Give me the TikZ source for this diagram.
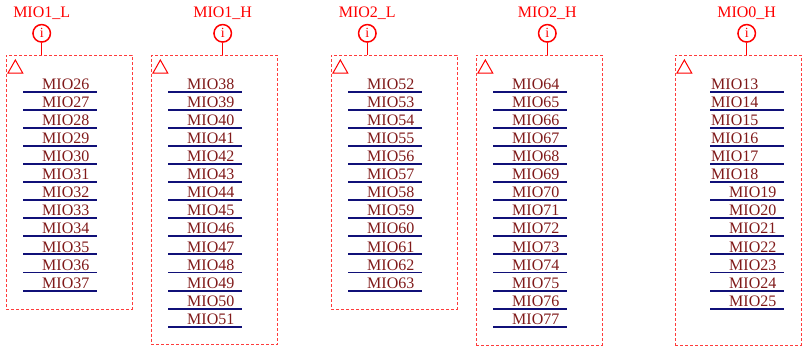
\documentclass[tikz,border=0pt]{standalone}
\usepackage{fontspec}
\setmainfont{Liberation Serif}
\definecolor{lblred}{HTML}{FF0000}
\definecolor{txtred}{HTML}{801A1A}
\definecolor{pinnavy}{HTML}{101078}
\definecolor{boxred}{HTML}{FF3C3C}
\begin{document}
\begin{tikzpicture}[x=1pt,y=-1pt,
  grpbox/.style={draw=boxred, dash pattern=on 3pt off 2pt, line width=1pt, inner sep=0pt, outer sep=0pt},
  pinline/.style={draw=pinnavy, line width=1.9pt},
  pintext/.style={text=txtred, font=\fontsize{16}{16}\selectfont, anchor=base west, inner sep=0pt},
  busname/.style={text=lblred, font=\fontsize{16}{16}\selectfont, anchor=base, inner sep=0pt},
  infocirc/.style={circle, draw=lblred, line width=1.5pt, minimum size=17.5pt, inner sep=0pt, text=lblred, font=\fontsize{14}{14}\selectfont},
  stem/.style={draw=lblred, line width=1.5pt},
  tri/.style={draw=lblred, line width=1pt}]
\useasboundingbox (0,0) rectangle (804,349);
\foreach \bx/\bb/\lo/\cx/\lab/\first/\last/\ns/\id in {
  6/309/17/41.7/MIO1\_L/26/37/0/a,
  151/344.5/17/222.7/MIO1\_H/38/51/0/b,
  331/309/17/367.3/MIO2\_L/52/63/0/c,
  476/345/17/547.3/MIO2\_H/64/77/0/d,
  675/345/35/746.7/MIO0\_H/13/25/6/e}{
  \pgfmathsetmacro\bh{\bb-55}
  \node[grpbox, anchor=north west, minimum width=126pt, minimum height=\bh pt] (box\id) at (\bx,55) {};
  \node[busname] (lab\id) at (\cx,17) {\lab};
  \node[infocirc] (inf\id) at (\cx,33.3) {i};
  \draw[stem] (inf\id.south) -- (inf\id.south |- box\id.north);
  \draw[tri] ({\bx+2},73) -- ({\bx+9.35},60) -- ({\bx+16.7},73) -- cycle;
  \foreach \n [count=\i from 0] in {\first,...,\last}{
    \pgfmathsetmacro\ly{91.7+18.08*\i}
    \pgfmathsetmacro\toff{\i<\ns ? 1 : 19}
    \node[pintext] (pin\n) at ({\bx+\lo+\toff},{\ly-2.4}) {MIO\n};
    \draw[pinline] ({\bx+\lo},\ly) coordinate (ls\n) -- ++(74,0) coordinate (le\n);
  }
}
\end{tikzpicture}
\end{document}
